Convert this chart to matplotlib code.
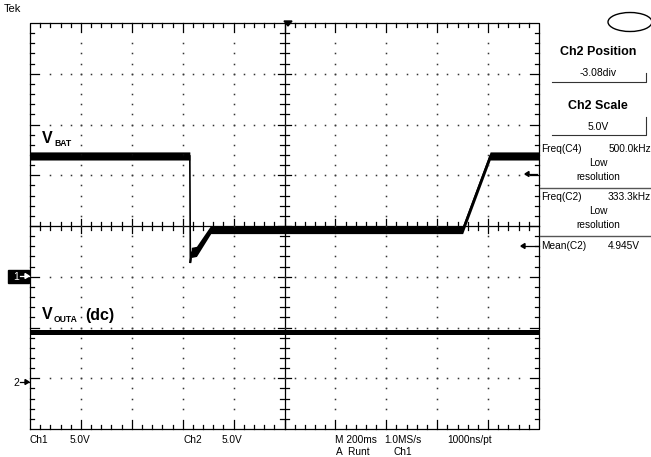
import numpy as np
import matplotlib
matplotlib.use("Agg")
import matplotlib.pyplot as plt
from matplotlib.lines import Line2D
from matplotlib.patches import Rectangle, Ellipse

plt.rcParams['font.family'] = ['Liberation Sans', 'DejaVu Sans']

W, H = 651, 457

# scope settings
TIME_PER_DIV = 200.0      # ms / div
CH1_VOLTS_PER_DIV = 5.0
CH2_VOLTS_PER_DIV = 5.0
CH1_POSITION = -1.0       # div
CH2_POSITION = -3.08      # div

# Ch1 : V_BAT (ms, V, noise band pk-pk in V)
vbat_t = [0, 628, 630, 634, 654, 710, 1700, 1808, 2000]
vbat_v = [11.9, 11.9, 1.35, 2.4, 2.5, 4.65, 4.65, 11.9, 11.9]
vbat_noise = [0.8, 0.8, 0.0, 1.0, 1.0, 0.8, 0.8, 0.8, 0.8]

# Ch2 : V_OUTA (dc)
vout_t = [0, 2000]
vout_v = [4.945, 4.945]
vout_noise = [0.5, 0.5]

bottom_line1 = [("Ch1", 30), ("5.0V", 70), ("Ch2", 183), ("5.0V", 222),
                ("M 200ms", 335), ("1.0MS/s", 384), ("1000ns/pt", 447)]
bottom_line2 = [("A  Runt", 336), ("Ch1", 393)]


def fx(x):
    return x / W


def fy(y):
    return 1 - y / H


def ptext(fig, x, y, s, **kw):
    fig.text(fx(x), fy(y), s, **kw)


def to_div(t, v, scale, pos):
    return np.array(t) / TIME_PER_DIV, np.array(v) / scale + pos


def draw_graticule(ax):
    k = dict(color='black', lw=0.9, clip_on=False)
    # frame
    ax.plot([0, 10, 10, 0, 0], [-4, -4, 4, 4, -4], **k)
    # center cross
    ax.plot([0, 10], [0, 0], **k)
    ax.plot([5, 5], [-4, 4], **k)

    minor = 0.08
    major = 0.17
    xs = np.round(np.arange(0, 10.01, 0.2), 2)
    ys = np.round(np.arange(-4, 4.01, 0.2), 2)
    for x in xs[1:-1]:
        ln = major if abs(x - round(x)) < 1e-6 else minor
        ax.plot([x, x], [4, 4 - ln], **k)
        ax.plot([x, x], [-4, -4 + ln], **k)
        cl = 0.13 if abs(x - round(x)) < 1e-6 else minor
        ax.plot([x, x], [-cl, cl], **k)
    for y in ys[1:-1]:
        ln = major if abs(y - round(y)) < 1e-6 else minor
        ax.plot([0, ln], [y, y], **k)
        ax.plot([10, 10 - ln], [y, y], **k)
        cl = 0.13 if abs(y - round(y)) < 1e-6 else minor
        ax.plot([5 - cl, 5 + cl], [y, y], **k)

    # dotted grid
    dot = dict(ls='none', marker='s', ms=1.1, color='#333333', mew=0)
    for x in range(1, 10):
        if x == 5:
            continue
        yy = ys[2:-2]
        ax.plot(np.full(len(yy), x), yy, **dot)
    for y in range(-3, 4):
        if y == 0:
            continue
        xx = xs[2:-2]
        ax.plot(xx, np.full(len(xx), y), **dot)


def draw_trace(ax, t, v, noise, scale, pos, lw=1.2):
    x, y = to_div(t, v, scale, pos)
    half = np.array(noise) / scale / 2
    ax.fill_between(x, y - half, y + half, color='black', lw=0)
    ax.plot(x, y, color='black', lw=lw, solid_joinstyle='miter')


def arrow(fig, x0, x1, y, color):
    # x1 is the tip
    d = 4 if x1 > x0 else -4
    fig.add_artist(Line2D([fx(x0), fx(x1)], [fy(y), fy(y)], color=color, lw=0.9))
    fig.add_artist(plt.Polygon([(fx(x1), fy(y)), (fx(x1 - d), fy(y - 2.5)), (fx(x1 - d), fy(y + 2.5))],
                               closed=True, transform=fig.transFigure, color=color))


def draw_panel(fig):
    # channel markers on the left
    fig.add_artist(Rectangle((fx(8), fy(283)), 21 / W, 13 / H,
                             transform=fig.transFigure, color='black'))
    ptext(fig, 16, 276.5, "1", color='white', fontsize=7.5, ha='center', va='center')
    arrow(fig, 20, 29, 276, 'white')
    ptext(fig, 16, 382.5, "2", fontsize=7.5, ha='center', va='center')
    arrow(fig, 20, 29, 382, 'black')

    # arrows on the right edge
    arrow(fig, 537, 525, 174, 'black')
    arrow(fig, 538, 521, 246, 'black')

    # trigger position marker
    fig.add_artist(plt.Polygon([(fx(284), fy(21)), (fx(292), fy(21)), (fx(288), fy(26))],
                               closed=True, transform=fig.transFigure, color='black'))

    ptext(fig, 4, 9, "Tek", fontsize=8, va='center')

    # right side menu
    fig.add_artist(Ellipse((fx(630), fy(22)), 44 / W, 19 / H,
                           transform=fig.transFigure, fill=False, lw=1.0))
    ptext(fig, 598, 52, "Ch2 Position", fontsize=9, weight='bold', ha='center', va='center')
    ptext(fig, 598, 73, "-3.08div", fontsize=7.5, ha='center', va='center')
    fig.add_artist(Line2D([fx(552), fx(646), fx(646)], [fy(82), fy(82), fy(73)],
                          color='#333333', lw=0.8))
    ptext(fig, 598, 106, "Ch2 Scale", fontsize=9, weight='bold', ha='center', va='center')
    ptext(fig, 598, 127, "5.0V", fontsize=7.5, ha='center', va='center')
    fig.add_artist(Line2D([fx(552), fx(646), fx(646)], [fy(135), fy(135), fy(117)],
                          color='#333333', lw=0.8))

    small = dict(fontsize=7.3, va='center')
    ptext(fig, 541, 149, "Freq(C4)", ha='left', **small)
    ptext(fig, 651, 149, "500.0kHz", ha='right', **small)
    ptext(fig, 598, 163, "Low", ha='center', **small)
    ptext(fig, 598, 177, "resolution", ha='center', **small)
    fig.add_artist(Line2D([fx(540), fx(651)], [fy(188), fy(188)], color='#555555', lw=1.0))
    ptext(fig, 541, 197, "Freq(C2)", ha='left', **small)
    ptext(fig, 651, 197, "333.3kHz", ha='right', **small)
    ptext(fig, 598, 211, "Low", ha='center', **small)
    ptext(fig, 598, 225, "resolution", ha='center', **small)
    fig.add_artist(Line2D([fx(540), fx(651)], [fy(236), fy(236)], color='#555555', lw=1.0))
    ptext(fig, 541, 246, "Mean(C2)", ha='left', **small)
    ptext(fig, 608, 246, "4.945V", ha='left', **small)

    # bottom status line
    for s, x in bottom_line1:
        ptext(fig, x, 440, s, fontsize=7.3, va='center')
    for s, x in bottom_line2:
        ptext(fig, x, 452, s, fontsize=7.3, va='center')

    # trace labels
    ptext(fig, 42, 143, "V", fontsize=11.5, weight='bold', va='baseline')
    ptext(fig, 54, 146, "BAT", fontsize=6.2, weight='bold', va='baseline')
    ptext(fig, 42, 319, "V", fontsize=11.5, weight='bold', va='baseline')
    ptext(fig, 54, 322, "OUTA", fontsize=6.2, weight='bold', va='baseline')
    ptext(fig, 85, 320, "(dc)", fontsize=11.5, weight='bold', va='baseline')


def main():
    fig = plt.figure(figsize=(W / 100, H / 100), dpi=100)
    fig.patch.set_facecolor('white')
    ax = fig.add_axes([fx(30), fy(429), 509 / W, 406 / H])
    ax.set_xlim(0, 10)
    ax.set_ylim(-4, 4)
    ax.axis('off')

    draw_graticule(ax)
    draw_trace(ax, vbat_t, vbat_v, vbat_noise, CH1_VOLTS_PER_DIV, CH1_POSITION)
    draw_trace(ax, vout_t, vout_v, vout_noise, CH2_VOLTS_PER_DIV, CH2_POSITION)
    draw_panel(fig)

    fig.savefig('out.png', dpi=100)


if __name__ == "__main__":
    main()
